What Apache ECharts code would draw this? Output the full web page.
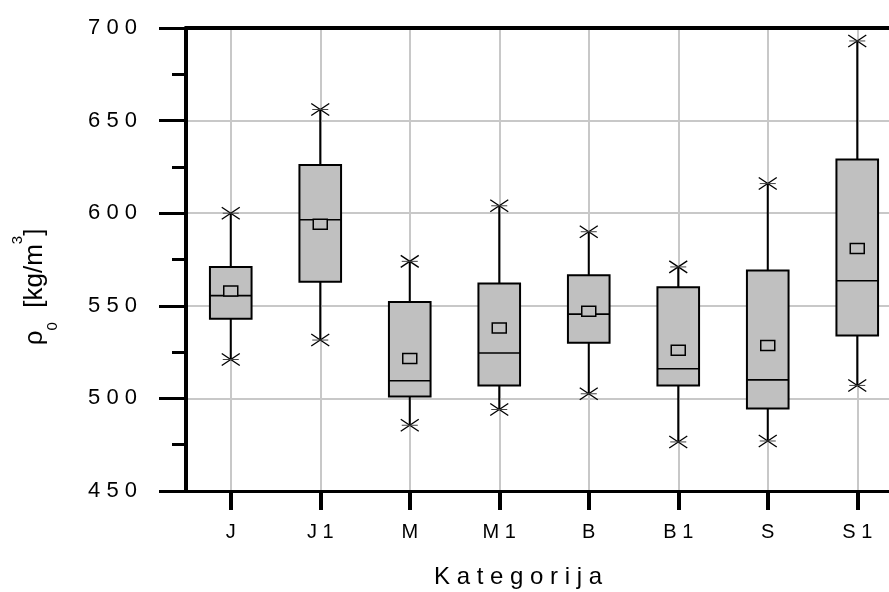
<!DOCTYPE html>
<html><head><meta charset="utf-8">
<script src="https://cdn.jsdelivr.net/npm/echarts@6/dist/echarts.min.js"></script>
<style>html,body{margin:0;padding:0;background:#fff}#c{width:889px;height:592px}</style>
</head><body><div id="c"></div>
<script>
const categories = ['J', 'J1', 'M', 'M1', 'B', 'B1', 'S', 'S1'];
const minVals    = [521, 531.5, 485.5, 494, 502.5, 476.5, 477, 507];
const q1Vals     = [543, 563, 501, 507, 530, 507, 494.5, 534];
const medianVals = [555.5, 596.5, 509.5, 524.5, 545.5, 516, 510, 563.5];
const q3Vals     = [571, 626, 552, 562, 566.5, 560, 569, 629];
const maxVals    = [600, 656, 574, 604, 590, 571, 616, 693];
const meanVals   = [558, 594, 521.5, 538, 547, 526, 528.5, 581];
const yTicks     = [450, 500, 550, 600, 650, 700];
const xTitle = 'K a t e g o r i j a';

const FONT = 'Liberation Sans, Arial, sans-serif';
const spaced = v => String(v).split('').join(' ');

const seriesData = categories.map((c, i) => [i, minVals[i], q1Vals[i], medianVals[i], q3Vals[i], maxVals[i], meanVals[i]]);

function star(p) {
  const s = {stroke: '#000', lineWidth: 1.3};
  return [
    {type: 'line', shape: {x1: p[0] - 9, y1: p[1] - 6, x2: p[0] + 9, y2: p[1] + 6}, style: s},
    {type: 'line', shape: {x1: p[0] - 9, y1: p[1] + 6, x2: p[0] + 9, y2: p[1] - 6}, style: s},
    {type: 'line', shape: {x1: p[0] - 8, y1: p[1], x2: p[0] + 8, y2: p[1]}, style: {stroke: '#444', lineWidth: 1}}
  ];
}

function renderItem(params, api) {
  const i = api.value(0);
  const pMin = api.coord([i, api.value(1)]);
  const pQ1 = api.coord([i, api.value(2)]);
  const pMed = api.coord([i, api.value(3)]);
  const pQ3 = api.coord([i, api.value(4)]);
  const pMax = api.coord([i, api.value(5)]);
  const pMean = api.coord([i, api.value(6)]);
  const bw = api.size([1, 0])[0] * 0.465;
  const x = pQ1[0];
  const ls = {stroke: '#000', lineWidth: 2};
  return {
    type: 'group',
    children: [
      {type: 'line', shape: {x1: x, y1: pQ3[1], x2: x, y2: pMax[1]}, style: ls},
      {type: 'line', shape: {x1: x, y1: pQ1[1], x2: x, y2: pMin[1]}, style: ls},
      {type: 'rect', shape: {x: x - bw / 2, y: pQ3[1], width: bw, height: pQ1[1] - pQ3[1]},
        style: {fill: '#c0c0c0', stroke: '#000', lineWidth: 2}},
      {type: 'line', shape: {x1: x - bw / 2, y1: pMed[1], x2: x + bw / 2, y2: pMed[1]}, style: {stroke: '#000', lineWidth: 1.6}},
      {type: 'rect', shape: {x: x - 7, y: pMean[1] - 5, width: 14, height: 10},
        style: {fill: '#c0c0c0', stroke: '#000', lineWidth: 1.5}},
      ...star(pMax),
      ...star(pMin)
    ]
  };
}

const chart = echarts.init(document.getElementById('c'), null, {renderer: 'canvas'});
chart.setOption({
  animation: false,
  backgroundColor: '#fff',
  grid: {left: 186, top: 28, width: 716, height: 463, outerBoundsMode: 'none', containLabel: false},
  xAxis: [
    {
      type: 'category', data: categories, position: 'bottom',
      axisLine: {show: true, lineStyle: {color: '#000', width: 3}},
      axisTick: {show: true, alignWithLabel: true, length: 19, lineStyle: {color: '#000', width: 4}},
      splitLine: {show: true, alignWithLabel: true, lineStyle: {color: '#c8c8c8', width: 2}},
      axisLabel: {margin: 31, fontSize: 20, fontFamily: FONT, color: '#000', formatter: spaced}
    },
    {
      type: 'category', data: categories, position: 'top',
      axisLine: {show: true, lineStyle: {color: '#000', width: 4}},
      axisTick: {show: false}, axisLabel: {show: false}, splitLine: {show: false}
    }
  ],
  yAxis: {
    type: 'value', min: yTicks[0], max: yTicks[yTicks.length - 1], interval: yTicks[1] - yTicks[0],
    axisLine: {show: true, lineStyle: {color: '#000', width: 4}},
    axisTick: {show: true, inside: false, length: 27, lineStyle: {color: '#000', width: 3}},
    minorTick: {show: true, splitNumber: 2, length: 14, lineStyle: {color: '#000', width: 3}},
    splitLine: {show: true, lineStyle: {color: '#c8c8c8', width: 2}},
    axisLabel: {margin: 49, fontSize: 22, fontFamily: FONT, color: '#000', formatter: spaced}
  },
  graphic: [
    {type: 'text', x: 518, y: 577, style: {text: xTitle, fontSize: 24, fontFamily: FONT, fill: '#000', align: 'center', verticalAlign: 'middle'}},
    {type: 'text', x: 35, y: 287, rotation: Math.PI / 2,
      style: {
        text: '{a|ρ}{sub|0}{a|  [kg/m}{sup|3}{a|]}',
        align: 'center', verticalAlign: 'middle', fill: '#000',
        rich: {
          a: {fontSize: 26, fontFamily: FONT, lineHeight: 50, verticalAlign: 'middle', fill: '#000'},
          sub: {fontSize: 15, fontFamily: FONT, lineHeight: 29, verticalAlign: 'bottom', fill: '#000'},
          sup: {fontSize: 15, fontFamily: FONT, lineHeight: 15, verticalAlign: 'top', fill: '#000'}
        }
      }}
  ],
  series: [{
    type: 'custom', renderItem: renderItem, data: seriesData,
    encode: {x: 0, y: [1, 2, 3, 4, 5, 6]}, clip: false
  }]
});
</script>
</body></html>
